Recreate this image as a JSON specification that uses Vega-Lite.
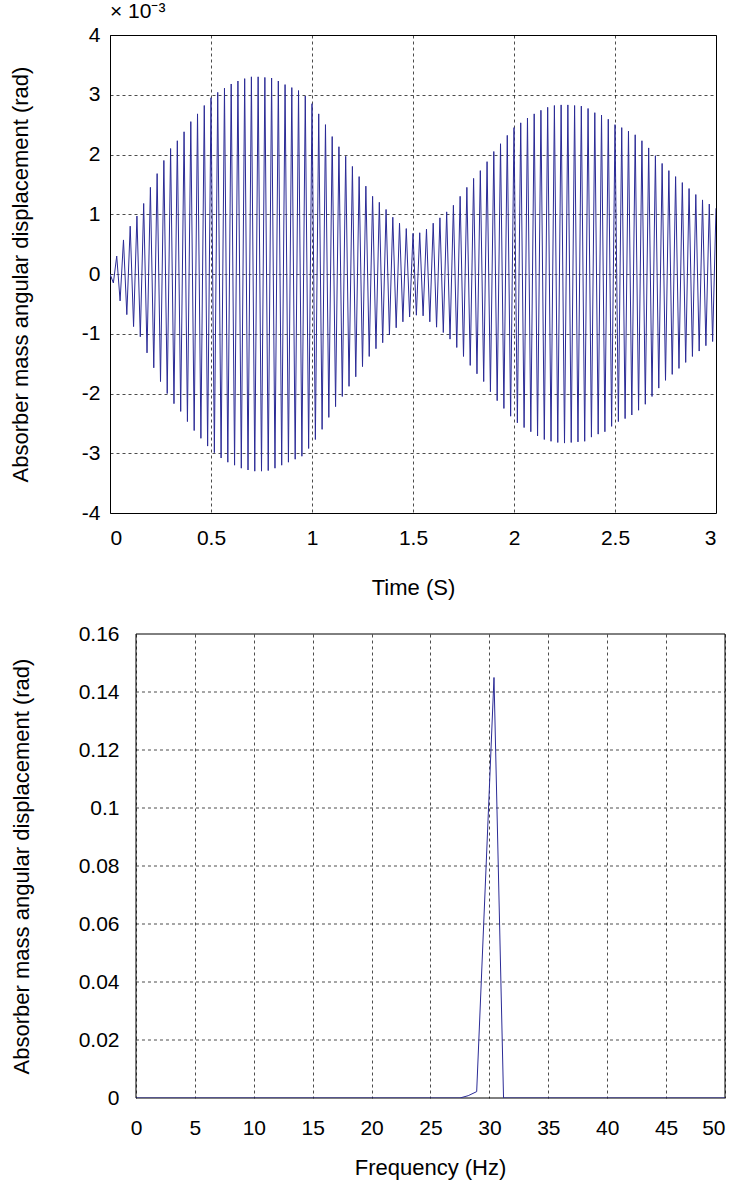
{
  "$schema": "https://vega.github.io/schema/vega-lite/v6.json",
  "padding": {"left": 8, "top": 0, "right": 5, "bottom": 5},
  "background": "white",
  "spacing": 24,
  "config": {
    "font": "Liberation Sans",
    "view": {"stroke": "#000", "strokeWidth": 1},
    "axis": {
      "grid": true, "gridColor": "#000", "gridDash": [3, 3], "gridOpacity": 0.7, "gridWidth": 1,
      "ticks": false, "domain": false,
      "labelFont": "Liberation Sans", "labelFontSize": 21, "labelColor": "#000",
      "titleFont": "Liberation Sans", "titleFontSize": 22, "titleFontWeight": "normal", "titleColor": "#000"
    }
  },
  "datasets": {
    "time": [
      {"t":0,"v":0},{"t":0.0167,"v":-0.15},{"t":0.0333,"v":0.3},
      {"t":0.05,"v":-0.45},{"t":0.0667,"v":0.57},{"t":0.0833,"v":-0.68},
      {"t":0.1,"v":0.8},{"t":0.1167,"v":-0.88},{"t":0.1333,"v":0.97},
      {"t":0.15,"v":-1.05},{"t":0.1667,"v":1.18},{"t":0.1833,"v":-1.32},
      {"t":0.2,"v":1.45},{"t":0.2167,"v":-1.57},{"t":0.2333,"v":1.68},
      {"t":0.25,"v":-1.8},{"t":0.2667,"v":1.9},{"t":0.2833,"v":-2.0},
      {"t":0.3,"v":2.1},{"t":0.3167,"v":-2.17},{"t":0.3333,"v":2.23},
      {"t":0.35,"v":-2.3},{"t":0.3667,"v":2.38},{"t":0.3833,"v":-2.47},
      {"t":0.4,"v":2.55},{"t":0.4167,"v":-2.62},{"t":0.4333,"v":2.68},
      {"t":0.45,"v":-2.75},{"t":0.4667,"v":2.82},{"t":0.4833,"v":-2.88},
      {"t":0.5,"v":2.95},{"t":0.5167,"v":-2.99},{"t":0.5333,"v":3.04},
      {"t":0.55,"v":-3.08},{"t":0.5667,"v":3.11},{"t":0.5833,"v":-3.15},
      {"t":0.6,"v":3.18},{"t":0.6167,"v":-3.2},{"t":0.6333,"v":3.23},
      {"t":0.65,"v":-3.25},{"t":0.6667,"v":3.27},{"t":0.6833,"v":-3.28},
      {"t":0.7,"v":3.3},{"t":0.7167,"v":-3.3},{"t":0.7333,"v":3.3},
      {"t":0.75,"v":-3.3},{"t":0.7667,"v":3.29},{"t":0.7833,"v":-3.29},
      {"t":0.8,"v":3.28},{"t":0.8167,"v":-3.25},{"t":0.8333,"v":3.23},
      {"t":0.85,"v":-3.2},{"t":0.8667,"v":3.17},{"t":0.8833,"v":-3.15},
      {"t":0.9,"v":3.12},{"t":0.9167,"v":-3.1},{"t":0.9333,"v":3.07},
      {"t":0.95,"v":-3.05},{"t":0.9667,"v":2.98},{"t":0.9833,"v":-2.92},
      {"t":1.0,"v":2.85},{"t":1.0167,"v":-2.77},{"t":1.0333,"v":2.68},
      {"t":1.05,"v":-2.6},{"t":1.0667,"v":2.5},{"t":1.0833,"v":-2.4},
      {"t":1.1,"v":2.3},{"t":1.1167,"v":-2.22},{"t":1.1333,"v":2.13},
      {"t":1.15,"v":-2.05},{"t":1.1667,"v":1.97},{"t":1.1833,"v":-1.88},
      {"t":1.2,"v":1.8},{"t":1.2167,"v":-1.72},{"t":1.2333,"v":1.63},
      {"t":1.25,"v":-1.55},{"t":1.2667,"v":1.47},{"t":1.2833,"v":-1.38},
      {"t":1.3,"v":1.3},{"t":1.3167,"v":-1.25},{"t":1.3333,"v":1.2},
      {"t":1.35,"v":-1.15},{"t":1.3667,"v":1.08},{"t":1.3833,"v":-1.02},
      {"t":1.4,"v":0.95},{"t":1.4167,"v":-0.9},{"t":1.4333,"v":0.85},
      {"t":1.45,"v":-0.8},{"t":1.4667,"v":0.76},{"t":1.4833,"v":-0.72},
      {"t":1.5,"v":0.68},{"t":1.5167,"v":-0.69},{"t":1.5333,"v":0.69},
      {"t":1.55,"v":-0.7},{"t":1.5667,"v":0.75},{"t":1.5833,"v":-0.8},
      {"t":1.6,"v":0.85},{"t":1.6167,"v":-0.89},{"t":1.6333,"v":0.94},
      {"t":1.65,"v":-0.98},{"t":1.6667,"v":1.04},{"t":1.6833,"v":-1.09},
      {"t":1.7,"v":1.15},{"t":1.7167,"v":-1.23},{"t":1.7333,"v":1.3},
      {"t":1.75,"v":-1.38},{"t":1.7667,"v":1.45},{"t":1.7833,"v":-1.53},
      {"t":1.8,"v":1.6},{"t":1.8167,"v":-1.67},{"t":1.8333,"v":1.73},
      {"t":1.85,"v":-1.8},{"t":1.8667,"v":1.88},{"t":1.8833,"v":-1.97},
      {"t":1.9,"v":2.05},{"t":1.9167,"v":-2.12},{"t":1.9333,"v":2.18},
      {"t":1.95,"v":-2.25},{"t":1.9667,"v":2.32},{"t":1.9833,"v":-2.38},
      {"t":2.0,"v":2.45},{"t":2.0167,"v":-2.49},{"t":2.0333,"v":2.53},
      {"t":2.05,"v":-2.57},{"t":2.0667,"v":2.61},{"t":2.0833,"v":-2.64},
      {"t":2.1,"v":2.68},{"t":2.1167,"v":-2.71},{"t":2.1333,"v":2.74},
      {"t":2.15,"v":-2.77},{"t":2.1667,"v":2.79},{"t":2.1833,"v":-2.8},
      {"t":2.2,"v":2.82},{"t":2.2167,"v":-2.82},{"t":2.2333,"v":2.83},
      {"t":2.25,"v":-2.83},{"t":2.2667,"v":2.83},{"t":2.2833,"v":-2.82},
      {"t":2.3,"v":2.82},{"t":2.3167,"v":-2.81},{"t":2.3333,"v":2.81},
      {"t":2.35,"v":-2.8},{"t":2.3667,"v":2.77},{"t":2.3833,"v":-2.73},
      {"t":2.4,"v":2.7},{"t":2.4167,"v":-2.68},{"t":2.4333,"v":2.66},
      {"t":2.45,"v":-2.64},{"t":2.4667,"v":2.59},{"t":2.4833,"v":-2.55},
      {"t":2.5,"v":2.5},{"t":2.5167,"v":-2.47},{"t":2.5333,"v":2.45},
      {"t":2.55,"v":-2.42},{"t":2.5667,"v":2.39},{"t":2.5833,"v":-2.36},
      {"t":2.6,"v":2.33},{"t":2.6167,"v":-2.28},{"t":2.6333,"v":2.23},
      {"t":2.65,"v":-2.18},{"t":2.6667,"v":2.11},{"t":2.6833,"v":-2.05},
      {"t":2.7,"v":1.98},{"t":2.7167,"v":-1.91},{"t":2.7333,"v":1.85},
      {"t":2.75,"v":-1.78},{"t":2.7667,"v":1.73},{"t":2.7833,"v":-1.68},
      {"t":2.8,"v":1.63},{"t":2.8167,"v":-1.58},{"t":2.8333,"v":1.53},
      {"t":2.85,"v":-1.48},{"t":2.8667,"v":1.43},{"t":2.8833,"v":-1.38},
      {"t":2.9,"v":1.33},{"t":2.9167,"v":-1.29},{"t":2.9333,"v":1.24},
      {"t":2.95,"v":-1.2},{"t":2.9667,"v":1.17},{"t":2.9833,"v":-1.13},
      {"t":3.0,"v":1.1}
    ],
    "spectrum": [
      {"f":0,"a":0},{"f":27.5,"a":0},{"f":28.2,"a":0.0008},{"f":28.92,"a":0.0022},
      {"f":30.39,"a":0.145},{"f":31.2,"a":0},{"f":50,"a":0}
    ],
    "ygrid": [
      {"g":0.02},{"g":0.04},{"g":0.06},{"g":0.08},{"g":0.1},{"g":0.12},{"g":0.14}
    ],
    "frame": [{"part":"frame"}]
  },
  "vconcat": [
    {
      "width": 606, "height": 478,
      "title": {"text": "× 10⁻³", "anchor": "start", "frame": "group", "fontSize": 21, "fontWeight": "normal", "font": "Liberation Sans", "offset": 2, "color": "#000"},
      "data": {"name": "time"},
      "mark": {"type": "line", "color": "#2b2b96", "strokeWidth": 1, "clip": true},
      "encoding": {
        "x": {"field": "t", "type": "quantitative", "scale": {"domain": [0, 3], "nice": false},
          "axis": {"values": [0, 0.5, 1, 1.5, 2, 2.5, 3], "labelExpr": "toString(datum.value)", "title": "Time (S)", "labelPadding": 14, "titlePadding": 29}},
        "y": {"field": "v", "type": "quantitative", "scale": {"domain": [-4, 4], "nice": false},
          "axis": {"values": [-4, -3, -2, -1, 0, 1, 2, 3, 4], "labelExpr": "toString(datum.value)", "title": "Absorber mass angular displacement (rad)", "labelPadding": 10, "titlePadding": 49}}
      }
    },
    {
      "width": 615, "height": 464,
      "view": {"stroke": null},
      "encoding": {
        "x": {"type": "quantitative", "scale": {"domain": [-2.2071, 50], "nice": false, "zero": false},
          "axis": {"values": [0, 5, 10, 15, 20, 25, 30, 35, 40, 45, 50], "labelExpr": "toString(datum.value)", "title": "Frequency (Hz)", "titleX": 320, "labelPadding": 19, "titlePadding": 19}},
        "y": {"type": "quantitative", "scale": {"domain": [0, 0.16], "nice": false},
          "axis": {"values": [0, 0.02, 0.04, 0.06, 0.08, 0.1, 0.12, 0.14, 0.16], "labelExpr": "toString(datum.value)", "title": "Absorber mass angular displacement (rad)", "grid": false, "offset": -26, "labelPadding": 17, "titlePadding": 45}}
      },
      "layer": [
        {
          "data": {"name": "ygrid"},
          "mark": {"type": "rule", "color": "#000", "strokeDash": [3, 3], "opacity": 0.7, "strokeWidth": 1},
          "encoding": {"y": {"field": "g"}, "x": {"datum": 0}, "x2": {"datum": 50}}
        },
        {
          "data": {"name": "frame"},
          "mark": {"type": "rect", "filled": false, "stroke": "#000", "strokeWidth": 1},
          "encoding": {"x": {"datum": 0}, "x2": {"datum": 50}, "y": {"datum": 0}, "y2": {"datum": 0.16}}
        },
        {
          "data": {"name": "spectrum"},
          "mark": {"type": "line", "color": "#2b2b96", "strokeWidth": 1, "clip": true},
          "encoding": {"x": {"field": "f"}, "y": {"field": "a"}}
        }
      ]
    }
  ]
}
